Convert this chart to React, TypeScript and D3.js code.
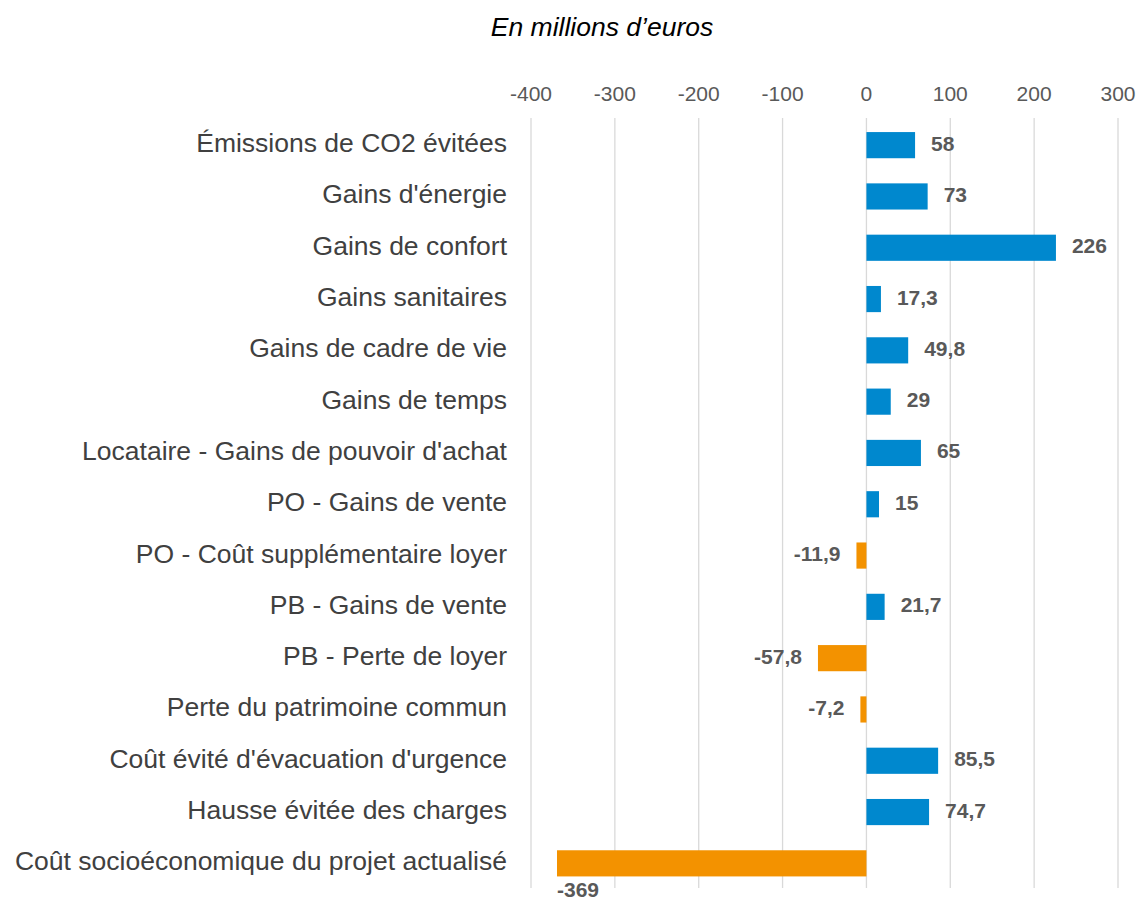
import React from "react";
import * as d3 from "d3";

const categories = [
  "Émissions de CO2 évitées",
  "Gains d'énergie",
  "Gains de confort",
  "Gains sanitaires",
  "Gains de cadre de vie",
  "Gains de temps",
  "Locataire - Gains de pouvoir d'achat",
  "PO - Gains de vente",
  "PO - Coût supplémentaire loyer",
  "PB - Gains de vente",
  "PB - Perte de loyer",
  "Perte du patrimoine commun",
  "Coût évité d'évacuation d'urgence",
  "Hausse évitée des charges",
  "Coût socioéconomique du projet actualisé",
];
const values = [58, 73, 226, 17.3, 49.8, 29, 65, 15, -11.9, 21.7, -57.8, -7.2, 85.5, 74.7, -369];
const ticks = [-400, -300, -200, -100, 0, 100, 200, 300];

const W = 1137;
const H = 900;

const fmt = (v: number) => String(v).replace(".", ",");

export default function App() {
  const x = d3.scaleLinear().domain([-400, 300]).range([531, 1118]);
  const y = d3
    .scaleBand<string>()
    .domain(categories)
    .range([119.5, 889])
    .paddingInner(0.49)
    .paddingOuter(0.245);
  const bw = y.bandwidth();
  const font = "Arial, 'Liberation Sans', sans-serif";
  return (
    <svg width={W} height={H} style={{ position: "absolute", left: 0, top: 0, background: "#fff" }} fontFamily={font}>
      <text x={602} y={29} textAnchor="middle" dominantBaseline="middle" fontStyle="italic" fontSize={26.5} fill="#000">
        En millions d’euros
      </text>
      {ticks.map((t) => (
        <g key={t}>
          <line x1={x(t)} x2={x(t)} y1={118} y2={888} stroke="#d9d9d9" strokeWidth={1.3} />
          <text x={x(t)} y={95} textAnchor="middle" dominantBaseline="middle" fontSize={21} fill="#595959">
            {t}
          </text>
        </g>
      ))}
      {categories.map((c, i) => {
        const v = values[i];
        const x0 = x(Math.min(0, v));
        const x1 = x(Math.max(0, v));
        const cy = (y(c) as number) + bw / 2;
        const lw = fmt(v).length * 11;
        let lx: number, ly: number, anchor: string;
        if (v >= 0) {
          lx = x(v) + 16;
          ly = cy;
          anchor = "start";
        } else if (x(v) - 16 - lw < x(-400)) {
          lx = x(v);
          ly = cy + bw / 2 + 15;
          anchor = "start";
        } else {
          lx = x(v) - 16;
          ly = cy;
          anchor = "end";
        }
        return (
          <g key={c}>
            <text x={507} y={cy} textAnchor="end" dominantBaseline="middle" fontSize={26.5} fill="#404040">
              {c}
            </text>
            <rect x={x0} y={y(c)} width={x1 - x0} height={bw} fill={v >= 0 ? "#0088ce" : "#f39200"} />
            <text x={lx} y={ly} textAnchor={anchor} dominantBaseline="middle" fontSize={21} fontWeight="bold" fill="#595959">
              {fmt(v)}
            </text>
          </g>
        );
      })}
    </svg>
  );
}
